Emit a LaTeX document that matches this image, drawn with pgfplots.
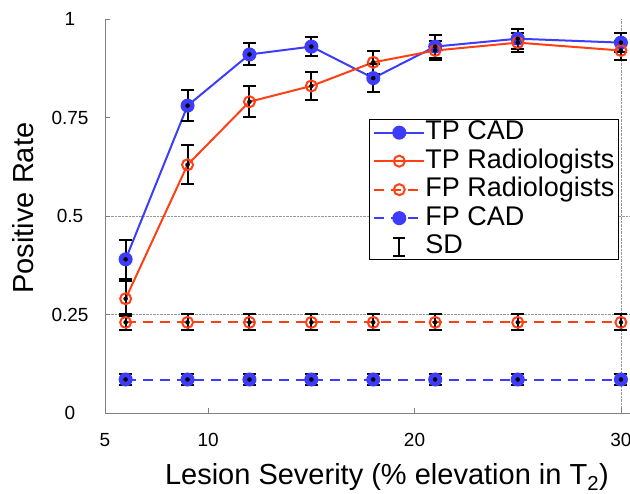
\documentclass[border=0pt]{standalone}
\usepackage{fontspec}
\setmainfont{Liberation Sans}
\usepackage{pgfplots}
\usepackage{pgfplotstable}
\pgfplotsset{compat=1.18}

\definecolor{cadblue}{RGB}{60,60,250}
\definecolor{radred}{RGB}{255,64,20}

% x, value, sd
\pgfplotstableread{
x    y     e
6    0.39  0.05
9    0.78  0.04
12   0.91  0.028
15   0.93  0.025
18   0.85  0.035
21   0.93  0.03
25   0.95  0.025
30   0.94  0.025
}\tpcad
\pgfplotstableread{
x    y     e
6    0.29  0.045
9    0.63  0.05
12   0.79  0.04
15   0.83  0.035
18   0.89  0.03
21   0.92  0.025
25   0.94  0.025
30   0.92  0.025
}\tprad
\pgfplotstableread{
x    y     e
6    0.23  0.02
9    0.23  0.02
12   0.23  0.02
15   0.23  0.02
18   0.23  0.02
21   0.23  0.02
25   0.23  0.02
30   0.23  0.02
}\fprad
\pgfplotstableread{
x    y      e
6    0.085  0.015
9    0.085  0.015
12   0.085  0.015
15   0.085  0.015
18   0.085  0.015
21   0.085  0.015
25   0.085  0.015
30   0.085  0.015
}\fpcad

\pgfplotsset{
  sdbars/.style={black, only marks, mark=none, forget plot,
    error bars/.cd, y dir=both, y explicit,
    error bar style={line width=2pt, black},
    error mark options={rotate=90, mark size=6.5pt, line width=2pt, black}},
}

\begin{document}
\begin{tikzpicture}
\begin{axis}[
  scale only axis,
  width=525pt, height=394pt,
  xmin=5, xmax=30.44, ymin=0, ymax=1,
  axis x line=bottom, axis y line=left,
  axis line style={-, gray, line width=0.8pt},
  xtick={5,10,20,30},
  ytick={0,0.25,0.5,0.75,1},
  tick align=inside,
  major tick length=5pt,
  tick style={gray, line width=0.8pt},
  /pgf/number format/assume math mode=true,
  ticklabel style={font=\fontsize{19}{22}\selectfont},
  xticklabel style={anchor=base, yshift=-34pt},
  yticklabel style={anchor=center, xshift=-35pt},
  extra y ticks={0.25,0.5}, extra y tick labels={},
  extra x ticks={30}, extra x tick labels={},
  extra tick style={grid=major},
  grid style={densely dotted, gray!80, line width=0.6pt},
  xlabel={Lesion Severity (\% elevation in T\textsubscript{2})},
  ylabel={Positive Rate},
  label style={font=\fontsize{29}{32}\selectfont},
  xlabel style={at={(rel axis cs:0.537,0)}, anchor=base, yshift=-72pt},
  ylabel style={at={(rel axis cs:0,0.52)}, anchor=center, yshift=82pt},
  clip=false,
  legend style={at={(rel axis cs:0.979,0.746)}, anchor=north east,
    draw=black, line width=1.2pt, fill=white,
    font=\fontsize{27}{30}\selectfont,
    inner xsep=4pt, inner ysep=1pt, row sep=4.5pt,
    nodes={inner sep=0pt, text height=19pt, text depth=5pt}},
  legend cell align=left,
  legend image code/.code={%
    \draw[mark repeat=2, mark phase=2, #1]
      plot coordinates {(0pt,0pt) (25pt,0pt) (50pt,0pt)};},
]
\addplot[cadblue, line width=2pt, mark=*, mark size=6pt,
  mark options={solid, fill=cadblue}] table[x=x, y=y] {\tpcad};
\addlegendentry{TP CAD}
\addplot[radred, line width=2pt, mark=o, mark size=5.5pt,
  mark options={solid}] table[x=x, y=y] {\tprad};
\addlegendentry{TP Radiologists}
\addplot[radred, line width=2pt, dash pattern=on 10pt off 7pt,
  mark=o, mark size=5.5pt, mark options={solid}] table[x=x, y=y] {\fprad};
\addlegendentry{FP Radiologists}
\addplot[cadblue, line width=2pt, dash pattern=on 10pt off 7pt,
  mark=*, mark size=6pt, mark options={solid, fill=cadblue}] table[x=x, y=y] {\fpcad};
\addlegendentry{FP CAD}
\addlegendimage{legend image code/.code={%
  \draw[black, line width=2.2pt] (25pt,-9pt) -- (25pt,9pt)
    (19pt,-9pt) -- (31pt,-9pt) (19pt,9pt) -- (31pt,9pt);}}
\addlegendentry{SD}

\addplot[sdbars] table[x=x, y=y, y error=e] {\tpcad};
\addplot[sdbars] table[x=x, y=y, y error=e] {\tprad};
\addplot[sdbars] table[x=x, y=y, y error=e] {\fprad};
\addplot[sdbars] table[x=x, y=y, y error=e] {\fpcad};
\end{axis}
\pgfresetboundingbox
\path (current axis.south west) ++(-105pt,-81pt) rectangle ++(630pt,494pt);
\end{tikzpicture}
\end{document}
